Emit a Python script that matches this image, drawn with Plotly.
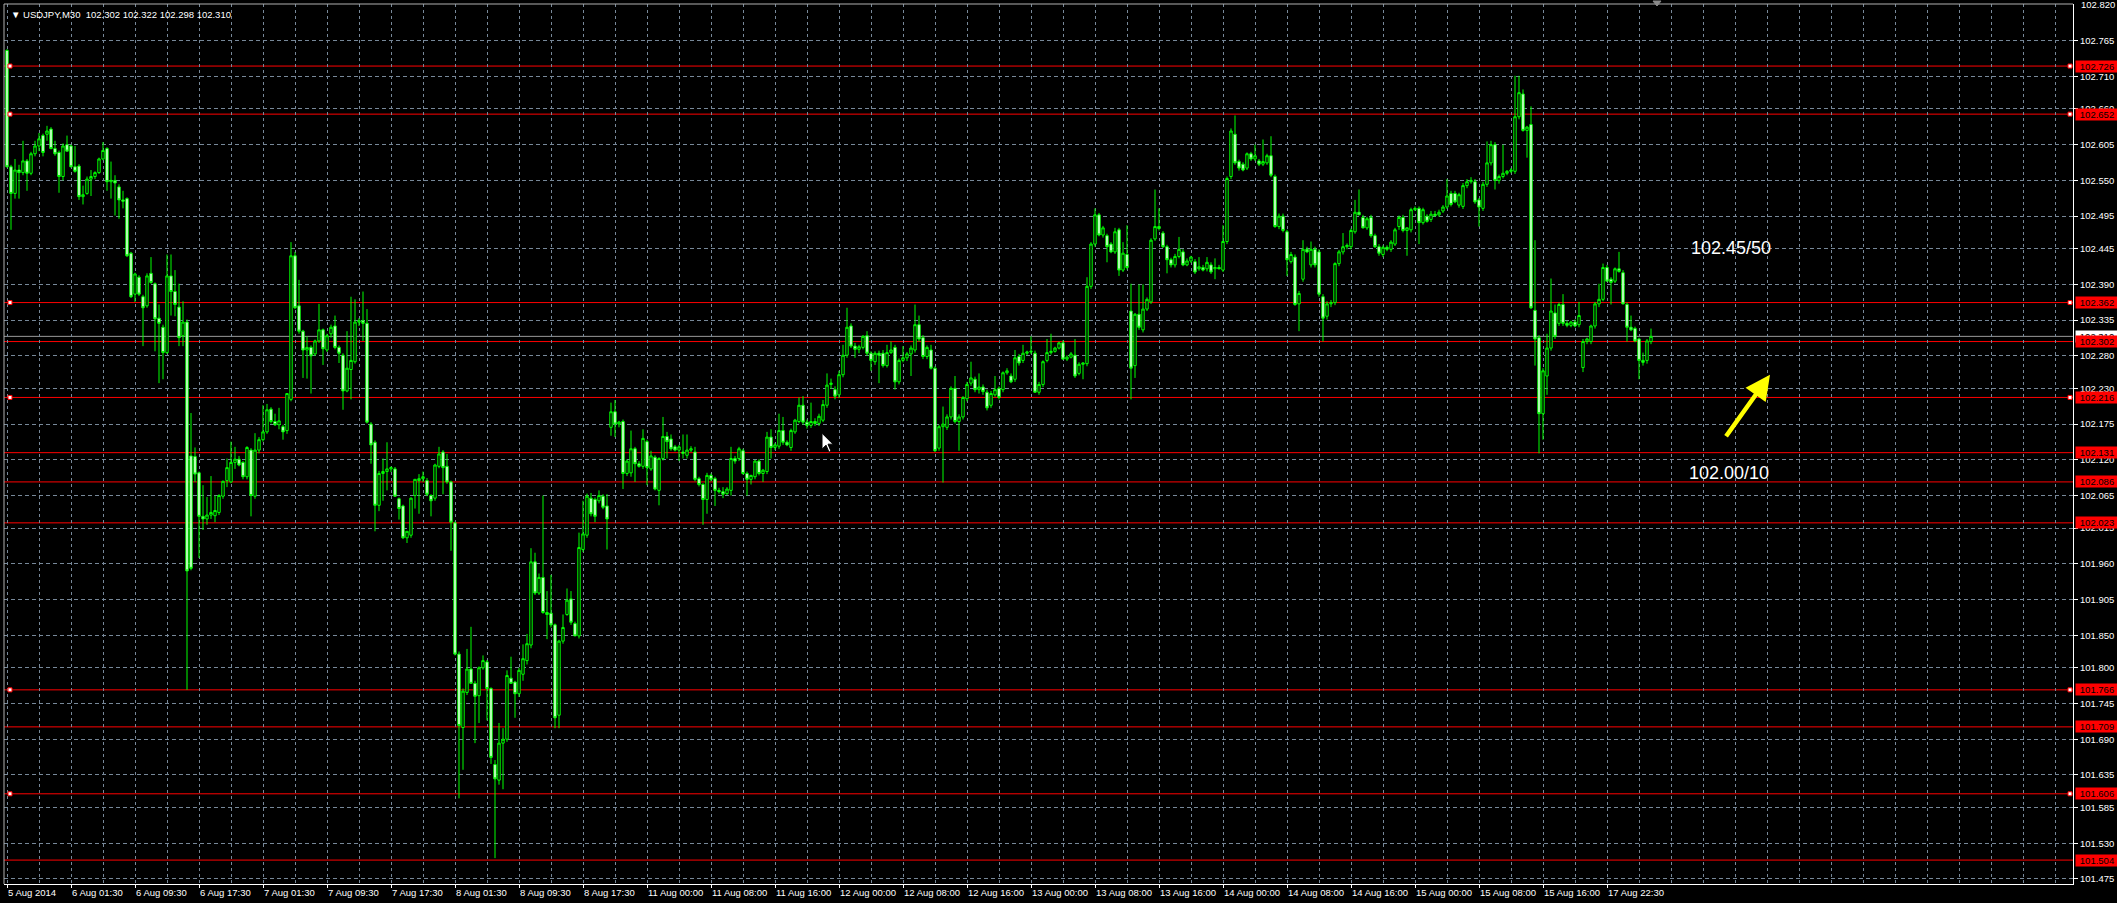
import plotly.graph_objects as go

# ---------------- data (USDJPY, M30, one value per bar) ----------------
open_ = [
 102.750,102.571,102.530,102.566,102.562,102.580,102.561,102.591,102.603,102.619,
 102.621,102.629,102.599,102.593,102.556,102.605,102.603,102.571,102.572,102.525,
 102.530,102.552,102.556,102.562,102.583,102.599,102.548,102.550,102.540,102.520,
 102.522,102.438,102.375,102.401,102.371,102.357,102.407,102.391,102.338,102.324,
 102.285,102.403,102.379,102.355,102.311,102.332,102.126,102.125,102.100,102.033,
 102.029,102.035,102.034,102.039,102.064,102.088,102.086,102.116,102.121,102.116,
 102.094,102.135,102.064,102.135,102.151,102.163,102.198,102.179,102.174,102.171,
 102.165,102.213,102.434,102.357,102.318,102.289,102.293,102.283,102.303,102.320,
 102.289,102.314,102.326,102.293,102.281,102.226,102.259,102.271,102.332,102.334,
 102.330,102.175,102.147,102.050,102.099,102.102,102.106,102.106,102.060,102.049,
 102.000,102.004,102.065,102.088,102.091,102.088,102.065,102.061,102.110,102.132,
 102.110,102.086,102.023,101.821,101.708,101.762,101.798,101.776,101.757,101.800,
 101.809,101.768,101.651,101.627,101.684,101.690,101.784,101.778,101.760,101.790,
 101.811,101.835,101.963,101.915,101.939,101.885,101.884,101.866,101.727,101.841,
 101.882,101.906,101.868,101.849,101.982,102.004,102.061,102.059,102.057,102.064,
 102.049,102.170,102.194,102.175,102.179,102.099,102.100,102.137,102.114,102.110,
 102.148,102.106,102.124,102.073,102.122,102.156,102.152,102.140,102.135,102.132,
 102.127,102.135,102.132,102.091,102.082,102.059,102.096,102.091,102.073,102.071,
 102.068,102.073,102.122,102.122,102.134,102.099,102.090,102.094,102.118,102.099,
 102.102,102.155,102.139,102.141,102.165,102.147,102.139,102.163,102.179,102.204,
 102.178,102.173,102.179,102.176,102.181,102.204,102.236,102.228,102.220,102.251,
 102.281,102.326,102.295,102.290,102.293,102.311,102.284,102.271,102.284,102.284,
 102.265,102.285,102.293,102.240,102.273,102.277,102.283,102.289,102.328,102.308,
 102.279,102.289,102.261,102.138,102.171,102.170,102.186,102.230,102.179,102.186,
 102.214,102.238,102.244,102.228,102.232,102.224,102.204,102.220,102.230,102.228,
 102.254,102.249,102.244,102.279,102.273,102.284,102.286,102.284,102.224,102.236,
 102.273,102.285,102.287,102.292,102.300,102.275,102.278,102.281,102.253,102.267,
 102.268,102.387,102.452,102.497,102.466,102.465,102.452,102.440,102.474,102.412,
 102.436,102.349,102.265,102.344,102.320,102.352,102.363,102.460,102.479,102.469,
 102.448,102.428,102.420,102.433,102.440,102.420,102.426,102.425,102.414,102.416,
 102.414,102.420,102.414,102.416,102.412,102.456,102.556,102.621,102.579,102.575,
 102.569,102.591,102.583,102.580,102.575,102.577,102.588,102.556,102.479,102.495,
 102.471,102.425,102.432,102.360,102.398,102.444,102.420,102.444,102.440,102.371,
 102.341,102.360,102.362,102.422,102.440,102.448,102.448,102.471,102.501,102.493,
 102.477,102.493,102.465,102.448,102.436,102.447,102.444,102.452,102.479,102.493,
 102.473,102.474,102.505,102.507,102.485,102.495,102.490,102.498,102.497,102.503,
 102.509,102.530,102.530,102.512,102.510,102.542,102.548,102.548,102.520,102.507,
 102.544,102.577,102.605,102.550,102.556,102.561,102.564,102.564,102.648,102.683,
 102.627,102.636,102.350,102.308,102.191,102.249,102.292,102.346,102.330,102.359,
 102.330,102.327,102.332,102.328,102.262,102.302,102.302,102.326,102.360,102.367,
 102.416,102.398,102.395,102.414,102.408,102.359,102.324,102.322,102.306,102.273,
 102.273,102.302]

high = [
 102.752,102.574,102.583,102.574,102.611,102.583,102.594,102.611,102.623,102.622,
 102.634,102.632,102.611,102.596,102.607,102.619,102.605,102.603,102.575,102.542,
 102.556,102.566,102.564,102.585,102.609,102.601,102.579,102.558,102.544,102.534,
 102.524,102.440,102.408,102.404,102.374,102.407,102.432,102.393,102.359,102.328,
 102.436,102.436,102.412,102.391,102.364,102.336,102.192,102.139,102.102,102.081,
 102.063,102.095,102.065,102.067,102.088,102.122,102.148,102.140,102.126,102.118,
 102.141,102.138,102.161,102.155,102.204,102.206,102.201,102.191,102.200,102.174,
 102.222,102.455,102.440,102.397,102.320,102.310,102.296,102.305,102.360,102.322,
 102.314,102.328,102.342,102.296,102.284,102.318,102.371,102.367,102.338,102.379,
 102.352,102.178,102.150,102.103,102.122,102.147,102.110,102.109,102.062,102.051,
 102.010,102.062,102.090,102.098,102.102,102.092,102.067,102.114,102.140,102.135,
 102.129,102.088,102.025,101.825,101.768,101.829,101.863,101.780,101.802,101.819,
 101.812,101.770,101.658,101.715,101.707,101.796,101.817,101.780,101.800,101.836,
 101.852,101.984,101.977,101.945,102.065,101.918,101.943,101.868,101.843,101.882,
 101.922,101.918,101.871,102.008,102.057,102.068,102.069,102.062,102.073,102.067,
 102.067,102.208,102.212,102.180,102.182,102.121,102.165,102.140,102.118,102.167,
 102.151,102.134,102.127,102.124,102.186,102.163,102.159,102.143,102.143,102.159,
 102.159,102.141,102.140,102.094,102.084,102.100,102.099,102.094,102.077,102.078,
 102.078,102.140,102.126,102.140,102.137,102.102,102.097,102.120,102.121,102.106,
 102.163,102.167,102.146,102.191,102.186,102.150,102.168,102.183,102.216,102.218,
 102.182,102.208,102.184,102.191,102.212,102.253,102.245,102.233,102.257,102.297,
 102.354,102.330,102.300,102.297,102.312,102.318,102.287,102.287,102.288,102.289,
 102.297,102.302,102.297,102.276,102.295,102.286,102.296,102.359,102.342,102.312,
 102.296,102.297,102.264,102.174,102.202,102.190,102.233,102.249,102.190,102.218,
 102.240,102.271,102.248,102.253,102.236,102.228,102.226,102.249,102.233,102.256,
 102.261,102.253,102.289,102.283,102.297,102.288,102.310,102.288,102.240,102.273,
 102.306,102.314,102.294,102.302,102.304,102.281,102.286,102.306,102.270,102.270,
 102.401,102.455,102.507,102.500,102.480,102.468,102.455,102.477,102.477,102.455,
 102.481,102.391,102.346,102.390,102.390,102.370,102.461,102.536,102.507,102.472,
 102.451,102.431,102.437,102.463,102.444,102.430,102.434,102.429,102.432,102.420,
 102.432,102.424,102.430,102.420,102.481,102.556,102.630,102.650,102.582,102.578,
 102.593,102.594,102.605,102.583,102.613,102.591,102.618,102.559,102.499,102.499,
 102.474,102.440,102.436,102.380,102.458,102.448,102.456,102.448,102.444,102.375,
 102.364,102.366,102.424,102.443,102.469,102.453,102.476,102.520,102.536,102.497,
 102.494,102.497,102.468,102.452,102.450,102.450,102.458,102.477,102.496,102.497,
 102.478,102.508,102.510,102.510,102.508,102.498,102.503,102.503,102.505,102.512,
 102.552,102.534,102.534,102.531,102.546,102.552,102.555,102.552,102.523,102.548,
 102.610,102.611,102.609,102.559,102.605,102.566,102.569,102.711,102.711,102.690,
 102.634,102.664,102.458,102.312,102.261,102.314,102.399,102.359,102.362,102.375,
 102.334,102.334,102.336,102.363,102.306,102.308,102.328,102.363,102.391,102.422,
 102.420,102.401,102.416,102.440,102.412,102.362,102.342,102.325,102.308,102.285,
 102.306,102.322]

low = [
 102.570,102.474,102.522,102.522,102.558,102.534,102.558,102.587,102.595,102.587,
 102.611,102.598,102.588,102.531,102.550,102.595,102.570,102.562,102.520,102.513,
 102.528,102.526,102.552,102.560,102.581,102.534,102.522,102.496,102.491,102.507,
 102.432,102.369,102.363,102.372,102.295,102.354,102.391,102.287,102.238,102.244,
 102.283,102.342,102.341,102.295,102.295,101.766,101.950,102.086,101.969,102.012,
 102.020,102.029,102.024,102.035,102.060,102.078,102.084,102.106,102.110,102.090,
 102.090,102.033,102.060,102.130,102.148,102.160,102.176,102.172,102.167,102.151,
 102.160,102.210,102.352,102.314,102.246,102.245,102.222,102.280,102.300,102.266,
 102.286,102.308,102.290,102.269,102.197,102.224,102.213,102.268,102.326,102.303,
 102.176,102.114,102.010,102.041,102.057,102.073,102.101,102.063,102.028,101.998,
 101.992,102.000,102.045,102.037,102.086,102.064,102.033,102.057,102.107,102.067,
 102.083,101.980,101.819,101.599,101.643,101.758,101.776,101.684,101.715,101.797,
 101.719,101.652,101.507,101.620,101.613,101.686,101.775,101.723,101.755,101.780,
 101.805,101.830,101.912,101.912,101.883,101.844,101.862,101.707,101.707,101.837,
 101.880,101.866,101.849,101.845,101.978,102.000,102.033,102.024,102.053,102.044,
 101.982,102.157,102.155,102.170,102.075,102.095,102.094,102.086,102.108,102.106,
 102.081,102.103,102.073,102.050,102.119,102.122,102.134,102.133,102.118,102.122,
 102.122,102.132,102.087,102.079,102.020,102.037,102.087,102.049,102.068,102.061,
 102.066,102.065,102.114,102.118,102.097,102.065,102.082,102.090,102.096,102.086,
 102.098,102.122,102.135,102.137,102.143,102.141,102.134,102.160,102.176,102.174,
 102.168,102.169,102.172,102.172,102.178,102.200,102.229,102.213,102.215,102.247,
 102.277,102.292,102.277,102.284,102.290,102.280,102.257,102.266,102.238,102.262,
 102.262,102.283,102.228,102.236,102.270,102.272,102.249,102.285,102.302,102.275,
 102.275,102.259,102.132,102.134,102.085,102.166,102.182,102.176,102.134,102.182,
 102.210,102.234,102.224,102.222,102.220,102.196,102.200,102.217,102.213,102.224,
 102.251,102.238,102.240,102.265,102.269,102.281,102.283,102.223,102.220,102.232,
 102.270,102.282,102.285,102.290,102.274,102.272,102.276,102.246,102.250,102.244,
 102.264,102.383,102.448,102.464,102.462,102.424,102.438,102.437,102.403,102.409,
 102.413,102.213,102.246,102.320,102.316,102.349,102.360,102.457,102.473,102.446,
 102.407,102.416,102.416,102.430,102.418,102.418,102.423,102.406,102.411,102.410,
 102.410,102.406,102.398,102.413,102.409,102.452,102.552,102.574,102.565,102.564,
 102.566,102.580,102.580,102.572,102.572,102.574,102.555,102.477,102.475,102.470,
 102.403,102.422,102.357,102.318,102.394,102.438,102.416,102.416,102.371,102.302,
 102.336,102.355,102.358,102.418,102.436,102.444,102.444,102.468,102.497,102.476,
 102.474,102.462,102.446,102.434,102.432,102.441,102.440,102.449,102.474,102.470,
 102.434,102.470,102.503,102.452,102.482,102.485,102.486,102.494,102.494,102.500,
 102.506,102.510,102.515,102.508,102.506,102.538,102.545,102.514,102.479,102.503,
 102.540,102.573,102.536,102.545,102.553,102.558,102.561,102.560,102.644,102.625,
 102.585,102.352,102.265,102.130,102.151,102.220,102.288,102.306,102.326,102.326,
 102.324,102.324,102.324,102.324,102.255,102.298,102.298,102.322,102.355,102.364,
 102.395,102.359,102.392,102.408,102.359,102.302,102.318,102.301,102.244,102.265,
 102.268,102.298]

close = [
 102.571,102.530,102.566,102.562,102.580,102.561,102.591,102.603,102.614,102.593,
 102.626,102.599,102.591,102.556,102.603,102.595,102.571,102.564,102.525,102.528,
 102.552,102.556,102.562,102.583,102.596,102.548,102.550,102.546,102.520,102.518,
 102.434,102.371,102.406,102.375,102.354,102.403,102.393,102.337,102.330,102.285,
 102.403,102.379,102.359,102.308,102.332,101.949,101.953,102.098,102.033,102.029,
 102.035,102.039,102.042,102.065,102.087,102.108,102.116,102.121,102.112,102.094,
 102.139,102.065,102.135,102.151,102.163,102.197,102.179,102.174,102.180,102.163,
 102.222,102.434,102.354,102.318,102.289,102.293,102.280,102.303,102.320,102.291,
 102.311,102.324,102.293,102.284,102.226,102.261,102.273,102.332,102.334,102.330,
 102.178,102.143,102.050,102.099,102.102,102.106,102.108,102.064,102.045,102.000,
 102.010,102.061,102.090,102.091,102.094,102.067,102.057,102.112,102.129,102.108,
 102.086,102.024,101.821,101.711,101.764,101.798,101.776,101.756,101.800,101.811,
 101.768,101.662,101.629,101.684,101.690,101.788,101.776,101.760,101.796,101.814,
 101.837,101.963,101.915,101.939,101.885,101.882,101.866,101.723,101.841,101.862,
 101.904,101.870,101.849,101.985,102.006,102.064,102.037,102.033,102.065,102.047,
 102.029,102.194,102.175,102.178,102.099,102.118,102.137,102.114,102.110,102.153,
 102.108,102.126,102.075,102.122,102.156,102.148,102.137,102.135,102.140,102.130,
 102.135,102.137,102.090,102.082,102.059,102.096,102.090,102.073,102.071,102.067,
 102.075,102.122,102.118,102.137,102.099,102.090,102.096,102.118,102.099,102.104,
 102.155,102.139,102.143,102.165,102.147,102.143,102.165,102.181,102.204,102.178,
 102.173,102.179,102.176,102.187,102.205,102.235,102.238,102.218,102.251,102.281,
 102.324,102.295,102.290,102.294,102.310,102.284,102.273,102.284,102.281,102.265,
 102.285,102.289,102.240,102.273,102.277,102.283,102.292,102.328,102.306,102.279,
 102.293,102.261,102.134,102.171,102.175,102.186,102.230,102.179,102.186,102.216,
 102.236,102.246,102.228,102.232,102.225,102.200,102.222,102.228,102.216,102.254,
 102.257,102.240,102.277,102.269,102.284,102.286,102.287,102.224,102.236,102.271,
 102.285,102.287,102.292,102.300,102.275,102.278,102.283,102.249,102.267,102.269,
 102.387,102.452,102.497,102.466,102.477,102.448,102.440,102.471,102.412,102.438,
 102.416,102.261,102.344,102.324,102.352,102.367,102.458,102.479,102.476,102.448,
 102.428,102.420,102.433,102.444,102.420,102.426,102.432,102.409,102.417,102.412,
 102.424,102.409,102.416,102.414,102.456,102.553,102.626,102.577,102.569,102.566,
 102.591,102.583,102.588,102.575,102.579,102.588,102.558,102.479,102.495,102.473,
 102.428,102.436,102.359,102.376,102.444,102.440,102.444,102.420,102.375,102.338,
 102.360,102.362,102.422,102.440,102.448,102.450,102.473,102.501,102.497,102.477,
 102.491,102.465,102.448,102.438,102.447,102.444,102.455,102.474,102.493,102.473,
 102.477,102.505,102.507,102.485,102.505,102.487,102.498,102.496,102.501,102.509,
 102.526,102.513,102.517,102.528,102.542,102.548,102.550,102.517,102.509,102.544,
 102.577,102.605,102.550,102.556,102.561,102.564,102.566,102.648,102.685,102.627,
 102.632,102.354,102.306,102.191,102.257,102.292,102.349,102.310,102.359,102.330,
 102.327,102.332,102.326,102.342,102.302,102.306,102.326,102.360,102.367,102.416,
 102.395,102.393,102.414,102.410,102.360,102.324,102.320,102.303,102.273,102.270,
 102.303,102.310]

assert len(open_) == len(high) == len(low) == len(close)
bar_index = list(range(len(close)))

# time-axis labels, one every 16 bars (M30)
time_labels = ["5 Aug 2014", "6 Aug 01:30", "6 Aug 09:30", "6 Aug 17:30", "7 Aug 01:30",
               "7 Aug 09:30", "7 Aug 17:30", "8 Aug 01:30", "8 Aug 09:30", "8 Aug 17:30",
               "11 Aug 00:00", "11 Aug 08:00", "11 Aug 16:00", "12 Aug 00:00", "12 Aug 08:00",
               "12 Aug 16:00", "13 Aug 00:00", "13 Aug 08:00", "13 Aug 16:00", "14 Aug 00:00",
               "14 Aug 08:00", "14 Aug 16:00", "15 Aug 00:00", "15 Aug 08:00", "15 Aug 16:00",
               "17 Aug 22:30"]
BARS_PER_LABEL = 16

price_labels = ["102.820", "102.765", "102.710", "102.660", "102.605", "102.550", "102.495",
                "102.445", "102.390", "102.335", "102.280", "102.230", "102.175", "102.120",
                "102.065", "102.015", "101.960", "101.905", "101.850", "101.800", "101.745",
                "101.690", "101.635", "101.585", "101.530", "101.475"]

# horizontal levels drawn on the chart
levels = [102.726, 102.652, 102.362, 102.302, 102.216, 102.131, 102.086, 102.023,
          101.766, 101.709, 101.606, 101.504]
selected_levels = [102.726, 102.652, 102.362, 102.216, 101.766, 101.606]
bid_price = 102.310
title_text = "USDJPY,M30\u00a0\u00a0102.302 102.322 102.298 102.310"
note_upper = ("102.45/50", 431.0, 102.446)
note_lower = ("102.00/10", 430.5, 102.100)

# ---------------- styling ----------------
FONT = "Liberation Sans, Arial, sans-serif"
GRID = "#778899"
LIME = "#00ff00"
RED = "#ff0000"

fig = go.Figure()
fig.add_trace(go.Candlestick(
    x=bar_index, open=open_, high=high, low=low, close=close,
    increasing=dict(line=dict(color=LIME, width=1), fillcolor="#000000"),
    decreasing=dict(line=dict(color=LIME, width=1), fillcolor="#ffffff"),
    whiskerwidth=0, hoverinfo="skip", showlegend=False))

shapes = []
# frame (left / top)
shapes.append(dict(type="line", xref="paper", yref="paper", x0=0, x1=0, y0=0, y1=1,
                   line=dict(color="#b0b0b0", width=1), layer="above"))
shapes.append(dict(type="line", xref="paper", yref="paper", x0=0, x1=1, y0=1, y1=1,
                   line=dict(color="#b0b0b0", width=1), layer="above"))
# bid line
shapes.append(dict(type="line", xref="paper", yref="y", x0=0, x1=1, y0=bid_price, y1=bid_price,
                   line=dict(color="#9a9a9a", width=1), layer="below"))
for lv in levels:
    shapes.append(dict(type="line", xref="paper", yref="y", x0=0, x1=1, y0=lv, y1=lv,
                       line=dict(color=RED, width=1), layer="below"))
for lv in selected_levels:
    for anchor, a, b in ((0, 4, 8), (1, -5, -1)):
        shapes.append(dict(type="rect", xref="paper", yref="y", xsizemode="pixel",
                           ysizemode="pixel", xanchor=anchor, yanchor=lv, x0=a, x1=b,
                           y0=-2, y1=2, fillcolor="#ffffff",
                           line=dict(color=RED, width=1), layer="above"))
# mouse pointer
shapes.append(dict(type="path", xref="x", yref="y", xsizemode="pixel", ysizemode="pixel",
                   xanchor=203.75, yanchor=102.161,
                   path="M0,0 L0,-16 L4,-12 L7,-19 L9,-18 L6,-11 L11,-11 Z",
                   fillcolor="#ffffff", line=dict(color="#000000", width=1), layer="above"))
# chart-shift marker at top
shapes.append(dict(type="path", xref="x", yref="paper", xsizemode="pixel", ysizemode="pixel",
                   xanchor=412.5, yanchor=1, path="M-4,3 L4,3 L0,-2 Z",
                   fillcolor="#8a8a8a", line=dict(color="#8a8a8a", width=1), layer="above"))

annotations = []
annotations.append(dict(xref="paper", yref="paper", x=0, y=1, xanchor="left", yanchor="top",
                        xshift=5, yshift=-3, showarrow=False,
                        text="\u25bc " + title_text,
                        font=dict(family=FONT, size=9.5, color="#ffffff")))
# top price label (kept as text so it is not dropped at the axis edge)
annotations.append(dict(xref="paper", yref="y", x=1, y=float(price_labels[0]), xanchor="left",
                        yanchor="middle", xshift=6, text=price_labels[0], showarrow=False,
                        font=dict(family=FONT, size=9.5, color="#ffffff")))
for txt, xx, yy in (note_upper, note_lower):
    annotations.append(dict(xref="x", yref="y", x=xx, y=yy, text=txt, showarrow=False,
                            font=dict(family=FONT, size=18, color="#ffffff"),
                            xanchor="center", yanchor="middle"))
annotations.append(dict(xref="x", yref="y", x=440.75, y=102.251, axref="x", ayref="y",
                        ax=429.5, ay=102.154, text="", showarrow=True, arrowhead=2,
                        arrowsize=1.1, arrowwidth=4.5, arrowcolor="#ffff00", standoff=0))
# bid price label (white) then level labels (red)
annotations.append(dict(xref="paper", yref="y", x=1, y=bid_price, xanchor="left",
                        yanchor="middle", xshift=2, text=f"{bid_price:.3f}", showarrow=False,
                        bgcolor="#ffffff", width=42, height=11, borderpad=0,
                        font=dict(family=FONT, size=9.5, color="#000000")))
for lv in levels:
    annotations.append(dict(xref="paper", yref="y", x=1, y=lv, xanchor="left",
                            yanchor="middle", xshift=2, text=f"{lv:.3f}", showarrow=False,
                            bgcolor=RED, width=42, height=11, borderpad=0,
                            font=dict(family=FONT, size=9.5, color="#000000")))

fig.update_layout(
    width=2117, height=903,
    margin=dict(l=4, r=44, t=4, b=19, pad=0, autoexpand=False),
    paper_bgcolor="#000000", plot_bgcolor="#000000",
    showlegend=False, hovermode=False,
    boxgap=0.4, boxgroupgap=0,
    font=dict(family=FONT, size=9.5, color="#ffffff"),
    shapes=shapes, annotations=annotations,
    xaxis=dict(range=[-0.75, 516.5], tickmode="array",
               tickvals=[i * BARS_PER_LABEL for i in range(len(time_labels))],
               ticktext=time_labels, ticks="outside", ticklen=3, tickcolor="#ffffff",
               tickangle=0, automargin=False,
               tickfont=dict(family=FONT, size=9.5, color="#ffffff"),
               ticklabelposition="outside right",
               showgrid=True, gridcolor=GRID, gridwidth=1, griddash="3px,3px",
               minor=dict(tick0=0, dtick=BARS_PER_LABEL // 2, showgrid=True, gridcolor=GRID,
                          gridwidth=1, griddash="3px,3px", ticks=""),
               showline=True, linecolor="#ffffff", linewidth=1, zeroline=False,
               rangeslider=dict(visible=False), fixedrange=True),
    yaxis=dict(side="right", range=[101.4672, 102.8215], tickmode="array",
               tickvals=[float(t) for t in price_labels[1:]], ticktext=price_labels[1:],
               ticks="outside", ticklen=4, tickcolor="#ffffff", automargin=False,
               tickfont=dict(family=FONT, size=9.5, color="#ffffff"),
               showgrid=True, gridcolor=GRID, gridwidth=1, griddash="4px,3px",
               showline=True, linecolor="#ffffff", linewidth=1, zeroline=False,
               fixedrange=True),
)

fig.write_html("out.html", config={"displayModeBar": False},
               post_script="document.body.style.margin='0';document.body.style.background='#000';")
